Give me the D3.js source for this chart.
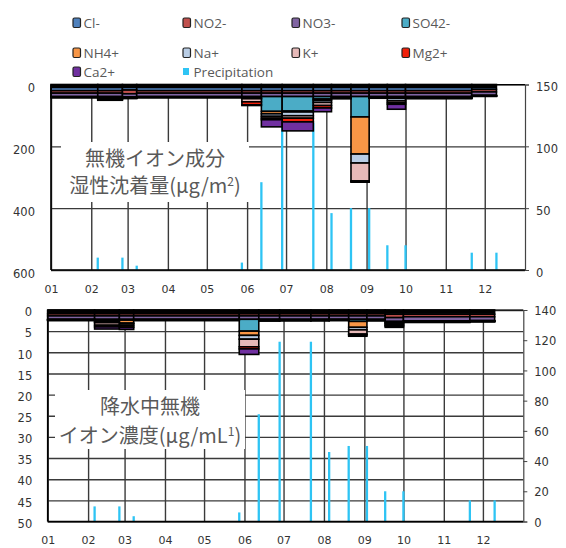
<!DOCTYPE html>
<html>
<head>
<meta charset="utf-8">
<script src="https://cdn.jsdelivr.net/npm/d3@7"></script>
<style>
  body { margin: 0; background: #fff; }
  svg { display: block; }
</style>
</head>
<body>
<svg id="chart" width="566" height="548"></svg>
<script>
// ---- series definitions ----
const ions = ["Cl-", "NO2-", "NO3-", "SO42-", "NH4+", "Na+", "K+", "Mg2+", "Ca2+"];
const ionColors = ["#4F81BD", "#C0504D", "#8064A2", "#4BACC6", "#F79646", "#B9CDE5", "#E6B9B8", "#F0200A", "#7030A0"];
const precipName = "Precipitation";
const precipColor = "#2EC4F4";
const monthLabels = ["01", "02", "03", "04", "05", "06", "07", "08", "09", "10", "11", "12"];

// sampling period boundaries (period i runs from date i to date i+1)
const sampleDates = ["2013-01-01", "2013-02-06", "2013-02-25", "2013-03-08", "2013-05-28",
  "2013-06-12", "2013-06-28", "2013-07-22", "2013-08-05", "2013-08-20", "2013-09-03",
  "2013-09-17", "2013-10-01", "2013-11-21", "2013-12-10"];

// precipitation (mm) recorded on sampleDates[1..14]
const precipitation = [10, 10, 3.5, 6, 71, 119, 119, 46, 50, 50, 20, 20, 14, 14];

// wet deposition per period (µg/m²)
const depCl  = [20, 20, 18, 20, 20, 20, 20, 20, 20, 20, 20, 20, 20, 16];
const depNO2 = [8, 8, 12, 8, 8, 8, 8, 8, 8, 8, 8, 8, 8, 8];
const depNO3 = [11, 11, 10, 11, 11, 11, 11, 11, 11, 11, 11, 11, 11, 11];
const depSO4 = [1, 2, 1, 1, 2, 48, 47, 8, 2, 66, 2, 4, 2, 1];
const depNH4 = [0.5, 1, 2, 0.5, 3, 8, 3, 4, 1, 120, 1, 2, 1, 0.5];
const depNa  = [0.5, 1, 0.5, 0.5, 2, 8, 12, 7, 1, 29, 1, 8, 1, 0.5];
const depK   = [0.5, 3, 0.5, 0.5, 10, 6, 8, 10, 1, 58, 0.5, 6, 1, 0.5];
const depMg  = [0.5, 2, 0.5, 0.5, 10, 5, 12, 8, 1, 2, 0.5, 5, 0.5, 0.5];
const depCa  = [1, 3, 1, 1, 2, 23, 29, 12, 1, 2, 0.5, 16, 1.5, 0.5];

// ion concentration in precipitation per period (µg/mL)
const conCl  = [0.9, 0.9, 0.9, 0.9, 0.9, 0.9, 0.9, 0.9, 0.9, 0.9, 0.9, 1.0, 1.0, 1.0];
const conNO2 = [0.5, 0.5, 0.5, 0.5, 0.5, 0.5, 0.5, 0.5, 0.5, 0.5, 0.5, 0.8, 0.6, 0.6];
const conNO3 = [0.8, 0.8, 0.8, 0.8, 0.8, 0.8, 0.8, 0.8, 0.8, 0.8, 0.8, 0.9, 1.0, 0.9];
const conSO4 = [0.05, 0.3, 0.2, 0.05, 2.8, 0.05, 0.1, 0.05, 0.05, 0.5, 0.1, 0.2, 0.05, 0.05];
const conNH4 = [0.05, 0.3, 0.7, 0.05, 1.0, 0.15, 0.05, 0.1, 0.05, 1.4, 0.05, 0.2, 0.05, 0.05];
const conNa  = [0.05, 0.2, 0.2, 0.05, 0.9, 0.05, 0.05, 0.05, 0.05, 0.6, 0.05, 0.2, 0.05, 0.05];
const conK   = [0.05, 0.6, 0.4, 0.05, 1.8, 0.05, 0.05, 0.05, 0.05, 1.0, 0.05, 0.3, 0.05, 0.05];
const conMg  = [0.05, 0.4, 0.4, 0.05, 0.5, 0.05, 0.05, 0.05, 0.05, 0.2, 0.05, 0.2, 0.05, 0.05];
const conCa  = [0.05, 0.5, 0.5, 0.05, 1.3, 0.05, 0.05, 0.05, 0.05, 0.3, 0.05, 0.3, 0.1, 0.05];

// axis ticks
const depTicks = [0, 200, 400, 600];
const depPrecipTicks = [0, 50, 100, 150];
const conTicks = [0, 5, 10, 15, 20, 25, 30, 35, 40, 45, 50];
const conPrecipTicks = [0, 20, 40, 60, 80, 100, 120, 140];

// ---- drawing ----
const svg = d3.select("#chart");
svg.append("rect").attr("width", 566).attr("height", 548).attr("fill", "#fff");

const parse = d3.timeParse("%Y-%m-%d");
const dates = sampleDates.map(parse);
const yearStart = parse("2013-01-01");
const yearEnd = parse("2014-01-01");
const monthStarts = d3.timeMonths(yearStart, yearEnd);

function buildRows(series) {
  return dates.slice(0, -1).map((d, i) => {
    const row = { start: d, end: dates[i + 1] };
    ions.forEach((k, j) => { row[k] = series[j][i]; });
    return row;
  });
}

const tickFont = "DejaVu Sans, Verdana, sans-serif";
const gridColor = "#3a3a3a";

function drawPanel(p) {
  const g = svg.append("g");
  const w = p.right - p.left, h = p.bottom - p.top;
  const x = d3.scaleTime().domain([yearStart, yearEnd]).range([p.left, p.right]);
  const y = d3.scaleLinear().domain([0, p.yMax]).range([p.top, p.bottom]);
  const yr = d3.scaleLinear().domain([0, p.rMax]).range([p.bottom, p.top]);

  // horizontal gridlines and left labels
  const gl = g.append("g").attr("transform", `translate(${p.left},0)`)
    .call(d3.axisLeft(y).tickValues(p.yTicks).tickSize(-w).tickPadding(p.lPad));
  gl.select(".domain").remove();
  gl.selectAll("line").attr("stroke", gridColor).attr("stroke-width", 1.4);
  gl.selectAll("text").attr("font-family", tickFont).attr("font-size", 11.5)
    .attr("fill", "#333").attr("dy", p.lDy);

  // vertical month gridlines and month labels
  const gx = g.append("g").attr("transform", `translate(0,${p.bottom})`)
    .call(d3.axisBottom(x).tickValues(monthStarts).tickSize(-h).tickPadding(p.xPad)
      .tickFormat((d, i) => monthLabels[i]));
  gx.select(".domain").remove();
  gx.selectAll("line").attr("stroke", gridColor).attr("stroke-width", 1.4);
  gx.selectAll("text").attr("font-family", tickFont).attr("font-size", 11)
    .attr("fill", "#333");

  // precipitation bars (secondary axis)
  g.append("g").selectAll("line")
    .data(precipitation)
    .join("line")
    .attr("x1", (d, i) => x(dates[i + 1]))
    .attr("x2", (d, i) => x(dates[i + 1]))
    .attr("y1", yr(0))
    .attr("y2", d => yr(d))
    .attr("stroke", precipColor)
    .attr("stroke-width", 2.3);

  // stacked ion amounts hanging from the top (reversed primary axis)
  const rows = buildRows(p.series);
  const layers = d3.stack().keys(ions)(rows);
  g.append("g").selectAll("g")
    .data(layers)
    .join("g")
    .attr("fill", (d, i) => ionColors[i])
    .selectAll("rect")
    .data(d => d)
    .join("rect")
    .attr("x", d => x(d.data.start))
    .attr("width", d => x(d.data.end) - x(d.data.start))
    .attr("y", d => y(d[0]))
    .attr("height", d => y(d[1]) - y(d[0]))
    .attr("stroke", "#000")
    .attr("stroke-width", 1.6);

  // heavy edge along the zero line where the stacks are drawn
  g.append("line")
    .attr("x1", x(dates[0])).attr("x2", x(dates[dates.length - 1]))
    .attr("y1", p.top + 1.8).attr("y2", p.top + 1.8)
    .attr("stroke", "#000").attr("stroke-width", 4);

  // title box
  g.append("rect")
    .attr("x", p.box[0]).attr("y", p.box[1])
    .attr("width", p.box[2]).attr("height", p.box[3])
    .attr("fill", "#fff");
  const titleText = (ty) => g.append("text")
    .attr("font-family", "Noto Sans CJK JP, sans-serif")
    .attr("font-size", 20)
    .attr("fill", "#595959")
    .attr("text-anchor", "middle")
    .attr("x", p.titleX).attr("y", ty);
  titleText(p.titleY[0]).text(p.title[0]);
  const l2 = titleText(p.titleY[1]);
  l2.append("tspan").text(p.title[1]);
  l2.append("tspan").attr("font-size", 12).attr("dy", -7).text(p.title[2]);
  l2.append("tspan").attr("dy", 7).text(p.title[3]);

  // axis frame
  g.append("line").attr("x1", p.left).attr("x2", p.left).attr("y1", p.top).attr("y2", p.bottom)
    .attr("stroke", "#000").attr("stroke-width", 1.6);
  g.append("line").attr("x1", p.left).attr("x2", p.right).attr("y1", p.bottom).attr("y2", p.bottom)
    .attr("stroke", "#000").attr("stroke-width", 1.6);
  g.append("line").attr("x1", p.left).attr("x2", p.right).attr("y1", p.top).attr("y2", p.top)
    .attr("stroke", "#000").attr("stroke-width", 1.2);

  // secondary axis (precipitation)
  const gr = g.append("g").attr("transform", `translate(${p.right},0)`)
    .call(d3.axisRight(yr).tickValues(p.rTicks).tickSize(4).tickPadding(7));
  gr.select(".domain").attr("stroke", "#444").attr("stroke-width", 1.2);
  gr.selectAll("line").attr("stroke", "#444");
  gr.selectAll("text").attr("font-family", tickFont).attr("font-size", 11.5)
    .attr("fill", "#333").attr("dy", p.rDy);
}

drawPanel({
  left: 51, right: 525, top: 84.5, bottom: 270,
  yMax: 600, yTicks: depTicks, rMax: 150, rTicks: depPrecipTicks,
  lPad: 16, lDy: "0.62em", rDy: "0.55em", xPad: 15,
  series: [depCl, depNO2, depNO3, depSO4, depNH4, depNa, depK, depMg, depCa],
  box: [61, 142, 188, 60],
  title: ["無機イオン成分", "湿性沈着量(μg/m", "2", ")"],
  titleX: 155, titleY: [166, 193]
});

drawPanel({
  left: 47.7, right: 523.3, top: 310, bottom: 521.5,
  yMax: 50, yTicks: conTicks, rMax: 140, rTicks: conPrecipTicks,
  lPad: 15.5, lDy: "0.5em", rDy: "0.4em", xPad: 15,
  series: [conCl, conNO2, conNO3, conSO4, conNH4, conNa, conK, conMg, conCa],
  box: [55, 390, 190, 59],
  title: ["降水中無機", "イオン濃度(μg/mL", "1", ")"],
  titleX: 150, titleY: [414, 443]
});

// ---- legend ----
const legendItems = ions.map((name, i) => ({ name, color: ionColors[i], precip: false }))
  .concat([{ name: precipName, color: precipColor, precip: true }]);
const legCols = [73, 183, 292, 402];
const legRows = [23, 53, 72];
const leg = svg.append("g");
legendItems.forEach((d, i) => {
  const cx = legCols[i % 4], cy = legRows[Math.floor(i / 4)];
  const item = leg.append("g").attr("transform", `translate(${cx},${cy})`);
  if (d.precip) {
    item.append("rect").attr("x", 0).attr("y", -4).attr("width", 6).attr("height", 7)
      .attr("fill", d.color);
  } else {
    item.append("rect").attr("x", 0).attr("y", -5).attr("width", 7.5).attr("height", 9.5)
      .attr("rx", 1.5).attr("fill", d.color).attr("stroke", "#222").attr("stroke-width", 1.2);
  }
  item.append("text").attr("x", 10.5).attr("y", 0).attr("dy", "0.36em")
    .attr("font-family", "Open Sans, sans-serif").attr("font-size", 13.5)
    .attr("fill", "#595959").text(d.name);
});
</script>
</body>
</html>
